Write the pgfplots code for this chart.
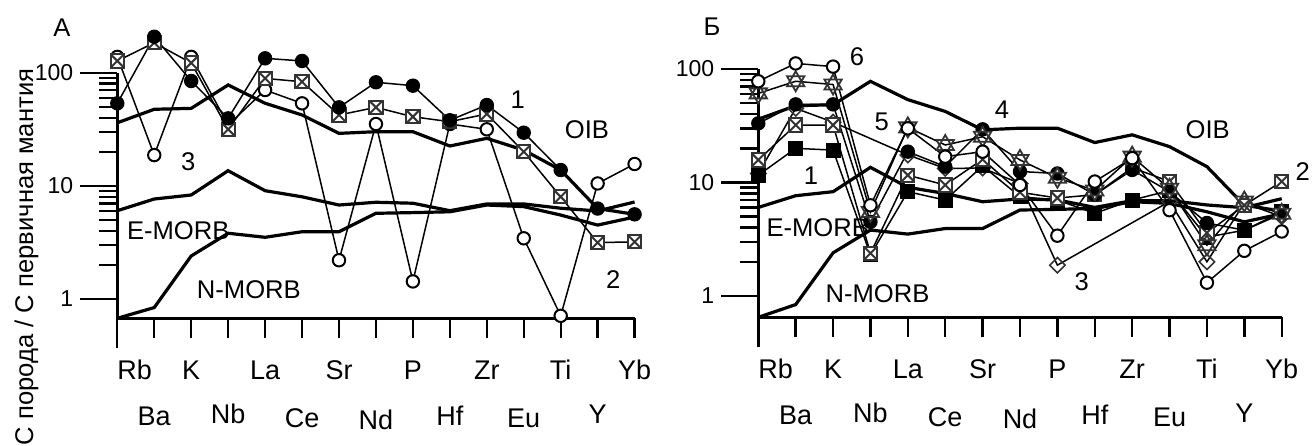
\documentclass[border=0pt]{standalone}
\usepackage{fontspec}
\setmainfont{Liberation Sans}
\usepackage{pgfplots}
\pgfplotsset{compat=1.18}

\pgfdeclareplotmark{boxx}{%
  \pgfpathrectangle{\pgfqpoint{-\pgfplotmarksize}{-\pgfplotmarksize}}{\pgfqpoint{2\pgfplotmarksize}{2\pgfplotmarksize}}%
  \pgfusepathqfillstroke
  \pgfpathmoveto{\pgfqpoint{-\pgfplotmarksize}{-\pgfplotmarksize}}%
  \pgfpathlineto{\pgfqpoint{\pgfplotmarksize}{\pgfplotmarksize}}%
  \pgfpathmoveto{\pgfqpoint{-\pgfplotmarksize}{\pgfplotmarksize}}%
  \pgfpathlineto{\pgfqpoint{\pgfplotmarksize}{-\pgfplotmarksize}}%
  \pgfusepathqstroke}
\pgfdeclareplotmark{hexa}{%
  \pgfpathmoveto{\pgfqpoint{0pt}{\pgfplotmarksize}}%
  \pgfpathlineto{\pgfqpoint{0.866\pgfplotmarksize}{-0.5\pgfplotmarksize}}%
  \pgfpathlineto{\pgfqpoint{-0.866\pgfplotmarksize}{-0.5\pgfplotmarksize}}%
  \pgfpathclose
  \pgfpathmoveto{\pgfqpoint{0pt}{-\pgfplotmarksize}}%
  \pgfpathlineto{\pgfqpoint{0.866\pgfplotmarksize}{0.5\pgfplotmarksize}}%
  \pgfpathlineto{\pgfqpoint{-0.866\pgfplotmarksize}{0.5\pgfplotmarksize}}%
  \pgfpathclose
  \pgfusepathqfillstroke}

\tikzset{
  refcurve/.style={black, line width=1.6pt},
  serline/.style={black, line width=0.75pt},
  labtxt/.style={font=\fontsize{12.8}{15}\selectfont, inner sep=0pt},
  longtick/.style={black, line width=1.2pt},
}
\newcommand{\lowlab}[2]{\raisebox{#1}{#2}}

\begin{document}
\begin{tikzpicture}
\path[use as bounding box] (0,0) rectangle (656.5pt,222.5pt);
\node[rotate=90, anchor=base, font=\fontsize{12.8}{15}\selectfont] at (16.5pt,94pt) {С порода / С первичная мантия};

% ---------- Panel A ----------
\begin{axis}[at={(58.65pt,63.35pt)}, anchor=south west,
  scale only axis, width=258.65pt, height=122.8pt,
  ymode=log, xmin=0, xmax=14, ymin=0.675, ymax=100, clip=false,
  axis x line=bottom, axis y line=left,
  axis line style={line width=1.3pt, -},
  xtick={0,...,14},
  xticklabels={\rlap{Rb},\lowlab{-23pt}{Ba},K,\lowlab{-22pt}{Nb},La,\lowlab{-24pt}{Ce},Sr,\lowlab{-25pt}{Nd},P,\lowlab{-23pt}{Hf},Zr,\lowlab{-24pt}{Eu},Ti,\lowlab{-22pt}{Y},Yb},
  xticklabel style={anchor=base, font=\fontsize{13.5}{16}\selectfont, yshift=-20.5pt},
  ytick={1,10,100}, yticklabels={1,10,100},
  minor ytick={2,3,4,5,6,7,8,9,20,30,40,50,60,70,80,90},
  yticklabel style={font=\fontsize{11.5}{14}\selectfont, xshift=-8.5pt},
  tick align=outside, major tick length=10pt, minor tick length=9pt,
  tick style={line width=1.2pt, black}]
\addplot[refcurve, no markers] coordinates {(0,36.1)(1,47.5)(2,48.4)(3,77.9)(4,53.7)(5,42.3)(6,29.1)(7,30.1)(8,30.1)(9,22.5)(10,26.3)(11,20.7)(12,13.8)(13,6.3)(14,5.6)};
\addplot[refcurve, no markers] coordinates {(0,6.03)(1,7.65)(2,8.3)(3,13.6)(4,9.06)(5,8.0)(6,6.77)(7,7.16)(8,7.02)(9,6.03)(10,6.92)(11,6.92)(12,6.34)(13,6.0)(14,7.2)};
\addplot[refcurve, no markers] coordinates {(0,0.675)(1,0.84)(2,2.4)(3,3.81)(4,3.51)(5,3.93)(6,3.93)(7,5.72)(8,5.8)(9,5.9)(10,6.77)(11,6.55)(12,5.52)(13,4.5)(14,5.3)};
% 3 open circles
\addplot[serline, mark=*, mark size=3.1pt, mark options={solid, fill=white, draw=black, line width=1pt}] coordinates {(0,138)(1,18.7)(2,138)(3,34.5)(4,70.3)(5,53.6)(6,2.2)(7,35.2)(8,1.43)(9,35.2)(10,31.6)(11,3.44)(12,0.71)(13,10.5)(14,15.6)};
% 2 crossed squares
\addplot[serline, mark=boxx, mark size=3.3pt, mark options={solid, fill=white, draw=black!80, line width=1pt}] coordinates {(0,127)(1,184)(2,122)(3,31.6)(4,89)(5,83.2)(6,42.3)(7,49.4)(8,40.8)(9,36.9)(10,43.2)(11,20)(12,8.0)(13,3.15)(14,3.2)};
% 1 filled circles
\addplot[serline, mark=*, mark size=3.3pt, mark options={solid, fill=black, draw=black, line width=0.6pt}] coordinates {(0,53.6)(1,208)(2,84.5)(3,39.5)(4,134)(5,127)(6,49.4)(7,82.3)(8,76.8)(9,38)(10,51.8)(11,29.5)(12,13.8)(13,6.3)(14,5.6)};
\draw[longtick] (axis cs:0,1) -- ++(-18.5pt,0pt);
\draw[longtick] (axis cs:0,10) -- ++(-18.5pt,0pt);
\draw[longtick] (axis cs:0,100) -- ++(-18.5pt,0pt);
\draw[longtick] (axis cs:0,0.675) -- ++(0pt,-15pt);
\node[labtxt] at (axis cs:-1.5,248) {А};
\node[labtxt] at (axis cs:10.84,57.4) {1};
\node[labtxt] at (axis cs:12.71,31.2) {OIB};
\node[labtxt] at (axis cs:1.92,16.3) {3};
\node[labtxt] at (axis cs:1.65,3.99) {E-MORB};
\node[labtxt] at (axis cs:3.56,1.22) {N-MORB};
\node[labtxt] at (axis cs:13.42,1.47) {2};
\end{axis}

% ---------- Panel B ----------
\begin{axis}[at={(379.15pt,63.85pt)}, anchor=south west,
  scale only axis, width=261.7pt, height=124.15pt,
  ymode=log, xmin=0, xmax=14, ymin=0.649, ymax=100, clip=false,
  axis x line=bottom, axis y line=left,
  axis line style={line width=1.3pt, -},
  xtick={0,...,14},
  xticklabels={\rlap{Rb},\lowlab{-23pt}{Ba},K,\lowlab{-22pt}{Nb},La,\lowlab{-24pt}{Ce},Sr,\lowlab{-25pt}{Nd},P,\lowlab{-23pt}{Hf},Zr,\lowlab{-24pt}{Eu},Ti,\lowlab{-22pt}{Y},Yb},
  xticklabel style={anchor=base, font=\fontsize{13.5}{16}\selectfont, yshift=-20.5pt},
  ytick={1,10,100}, yticklabels={1,10,100},
  minor ytick={2,3,4,5,6,7,8,9,20,30,40,50,60,70,80,90},
  yticklabel style={font=\fontsize{11.5}{14}\selectfont, xshift=-8.5pt},
  tick align=outside, major tick length=10pt, minor tick length=9pt,
  tick style={line width=1.2pt, black}]
\addplot[refcurve, no markers] coordinates {(0,36.1)(1,47.5)(2,48.4)(3,77.9)(4,53.7)(5,42.3)(6,29.1)(7,30.1)(8,30.1)(9,22.5)(10,26.3)(11,20.7)(12,13.8)(13,6.3)(14,5.6)};
\addplot[refcurve, no markers] coordinates {(0,6.03)(1,7.65)(2,8.3)(3,13.6)(4,9.06)(5,8.0)(6,6.77)(7,7.16)(8,7.02)(9,6.03)(10,6.92)(11,6.92)(12,6.34)(13,6.0)(14,7.2)};
\addplot[refcurve, no markers] coordinates {(0,0.649)(1,0.84)(2,2.4)(3,3.81)(4,3.51)(5,3.93)(6,3.93)(7,5.72)(8,5.8)(9,5.9)(10,6.77)(11,6.55)(12,5.52)(13,4.5)(14,5.3)};
% 3 diamonds
\addplot[serline, mark=square, mark size=2.7pt, mark options={solid, rotate=45, fill=white, draw=black!80, line width=0.8pt}] coordinates {(0,12)(1,45)(2,34)(4,17.5)(5,13.3)(6,13.4)(7,9.8)(8,1.87)(11,6.8)(12,2.0)(13,6.6)(14,5.0)};
% 1 filled squares
\addplot[serline, mark=square*, mark size=3.5pt, mark options={solid, fill=black, draw=black, line width=0.5pt}] coordinates {(0,11.6)(1,20)(2,19.3)(3,2.3)(4,8.3)(5,7.0)(6,14)(7,7.5)(8,7.0)(9,5.35)(10,7.0)(11,8.5)(12,3.3)(13,3.8)(14,5.5)};
% 2 crossed squares
\addplot[serline, mark=boxx, mark size=3.3pt, mark options={solid, fill=white, draw=black!80, line width=1pt}] coordinates {(0,15.8)(1,32.1)(2,32.1)(3,2.38)(4,11.6)(5,9.5)(6,16)(7,8.2)(8,7.3)(9,7.8)(10,13.5)(11,10.2)(12,3.6)(13,6.3)(14,10.2)};
% 4 filled circles
\addplot[serline, mark=*, mark size=3.3pt, mark options={solid, fill=black, draw=black, line width=0.6pt}] coordinates {(0,33.2)(1,48.8)(2,48.8)(3,4.5)(4,18.7)(5,13.8)(6,29.4)(7,12.5)(8,12)(9,7.8)(10,12.9)(11,8.3)(12,4.4)(13,3.8)(14,5.3)};
% 5 hexagrams
\addplot[serline, mark=hexa, mark size=5pt, mark options={solid, fill=white, draw=black!80, line width=0.9pt}] coordinates {(0,61)(1,78)(2,73)(3,5.5)(4,30.6)(5,21.4)(6,25.3)(7,15.8)(8,11)(9,8.5)(10,16.9)(11,8.8)(12,2.8)(13,6.8)(14,5.3)};
% 6 open circles
\addplot[serline, mark=*, mark size=3.1pt, mark options={solid, fill=white, draw=black, line width=1pt}] coordinates {(0,78)(1,112)(2,105)(3,6.3)(4,30)(5,16.9)(6,18.7)(7,9.5)(8,3.4)(9,10.2)(10,16.4)(11,5.7)(12,1.31)(13,2.5)(14,3.7)};
\draw[longtick] (axis cs:0,1) -- ++(-18.5pt,0pt);
\draw[longtick] (axis cs:0,10) -- ++(-18.5pt,0pt);
\draw[longtick] (axis cs:0,100) -- ++(-18.5pt,0pt);
\draw[longtick] (axis cs:0,0.649) -- ++(0pt,-15pt);
\node[labtxt] at (axis cs:-1.24,234) {Б};
\node[labtxt] at (axis cs:2.64,127.6) {6};
\node[labtxt] at (axis cs:3.30,34.1) {5};
\node[labtxt] at (axis cs:6.52,43.5) {4};
\node[labtxt] at (axis cs:12.02,29) {OIB};
\node[labtxt] at (axis cs:14.56,12.4) {2};
\node[labtxt] at (axis cs:1.41,11.4) {1};
\node[labtxt] at (axis cs:1.59,3.97) {E-MORB};
\node[labtxt] at (axis cs:3.19,1.04) {N-MORB};
\node[labtxt] at (axis cs:8.65,1.34) {3};
\end{axis}
\end{tikzpicture}
\end{document}
